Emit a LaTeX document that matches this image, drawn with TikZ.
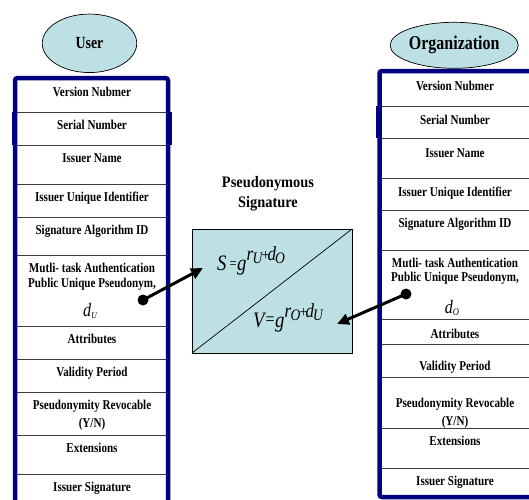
\documentclass[tikz,border=0pt]{standalone}
\usepackage{fontspec}
\setmainfont{Liberation Serif}
\newfontfamily\tabfont{Liberation Serif}[FakeStretch=0.82]
\newfontfamily\titfont{Liberation Serif}[FakeStretch=0.9]
\newfontfamily\eqfont{Liberation Serif}[FakeStretch=0.85]
\usetikzlibrary{arrows.meta,shapes.geometric}
\definecolor{navy}{RGB}{0,0,128}
\definecolor{lblue}{RGB}{189,224,228}
\definecolor{rowline}{RGB}{60,60,60}
\newcommand\sigeq[5]{{\eqfont\itshape\fontsize{22}{22}\selectfont #1\kern#2\raisebox{2pt}{\upshape\fontsize{#5}{#5}\selectfont=}\kern0.5pt g\raisebox{10pt}{\fontsize{20}{20}\selectfont r\kern-0.5pt\raisebox{-3pt}{\fontsize{16}{16}\selectfont #3}\kern-1pt\upshape\fontsize{16}{16}\selectfont+\kern-1.5pt\itshape\fontsize{20}{20}\selectfont d\kern-1pt\raisebox{-3pt}{\fontsize{16}{16}\selectfont #4}}}}
\newcommand\pseud[3]{{\eqfont\itshape\fontsize{19}{19}\selectfont d\raisebox{#2}{\fontsize{#3}{#3}\selectfont #1}}}
\tikzset{
  cell/.style={font=\tabfont\bfseries\fontsize{13.5}{15}\selectfont, inner sep=0pt, anchor=base},
  frame/.style={draw=navy, line width=4.5pt, rounded corners=2.5pt},
  rowsep/.style={draw=rowline, line width=0.9pt},
  oval/.style={ellipse, draw=black, line width=0.7pt, fill=lblue, inner sep=0pt,
    font=\tabfont\bfseries\fontsize{17}{17}\selectfont},
  sigbox/.style={draw=black, line width=0.8pt, fill=lblue},
  sigarrow/.style={line width=3pt, -{Triangle[length=12pt,width=11pt]}},
}
\begin{document}
\begin{tikzpicture}[x=1pt,y=-1pt]
\clip (0,0) rectangle (529,499);
\fill[white] (0,0) rectangle (529,499);

% ellipses
\node[oval, minimum width=94.5pt, minimum height=58.5pt] (user) at (89.5,43.3) {User};
\node[oval, minimum width=95pt, minimum height=46pt, font=\tabfont\bfseries\fontsize{19.5}{19.5}\selectfont] (org) at (454.2,45.3) {Organization};

% left table rows
\foreach \yy in {112,145,184,217,255,326,359,392,435,474}
  \draw[rowsep] (15,\yy) -- (168,\yy);
\draw[navy, line width=5.5pt] (14.5,112) -- (14.5,145);
\draw[navy, line width=5.5pt] (169.5,112) -- (169.5,145);
\draw[frame] (15,520) -- (15,78) -- (168,78) -- (168,520);

% right table rows
\foreach \yy in {106,138,178,210,250,319,344,377,428,468}
  \draw[rowsep] (379.5,\yy) -- (540,\yy);
\draw[navy, line width=5.5pt] (378.5,106) -- (378.5,138);
\draw[frame] (545,71) -- (379.5,71) -- (379.5,497) -- (545,497);

% left table texts
\node[cell] (lver) at (92,96.5) {Version Nubmer};
\node[cell] (lser) at (92,129.5) {Serial Number};
\node[cell] (lina) at (92,162.5) {Issuer Name};
\node[cell] (liui) at (92,201.5) {Issuer Unique Identifier};
\node[cell] (lsig) at (92,234.5) {Signature Algorithm ID};
\node[cell] (lmt1) at (92,272.5) {Mutli- task Authentication};
\node[cell] (lmt2) at (92,287.5) {Public Unique Pseudonym,};
\node[inner sep=0pt, anchor=base] (ldu) at (90,316) {\pseud{U}{-2pt}{9}};
\node[cell] (latt) at (92,343.5) {Attributes};
\node[cell] (lval) at (92,376.5) {Validity Period};
\node[cell] (lpr1) at (92,409.5) {Pseudonymity Revocable};
\node[cell] (lpr2) at (92,427.5) {(Y/N)};
\node[cell] (lext) at (92,452.5) {Extensions};
\node[cell] (lisg) at (92,491.5) {Issuer Signature};

% right table texts
\node[cell] (rver) at (455,90.5) {Version Nubmer};
\node[cell] (rser) at (455,124.5) {Serial Number};
\node[cell] (rina) at (455,157.5) {Issuer Name};
\node[cell] (riui) at (455,196.5) {Issuer Unique Identifier};
\node[cell] (rsig) at (455,227.5) {Signature Algorithm ID};
\node[cell] (rmt1) at (455,267.5) {Mutli- task Authentication};
\node[cell] (rmt2) at (455,281.5) {Public Unique Pseudonym,};
\node[inner sep=0pt, anchor=base] (rdo) at (452,313) {\pseud{O}{-2pt}{10}};
\node[cell] (ratt) at (455,338.5) {Attributes};
\node[cell] (rval) at (455,370.5) {Validity Period};
\node[cell] (rpr1) at (455,407.5) {Pseudonymity Revocable};
\node[cell] (rpr2) at (455,425.5) {(Y/N)};
\node[cell] (rext) at (455,445.5) {Extensions};
\node[cell] (risg) at (455,485.5) {Issuer Signature};

% signature box
\node[align=center, inner sep=0pt, font=\titfont\bfseries\fontsize{16}{20}\selectfont] (title) at (268,193.7) {Pseudonymous\\Signature};
\draw[sigbox] (192,229) rectangle (352,353);
\draw[line width=0.7pt] (192,353) -- (352,229);
\node[anchor=base west, inner sep=0pt] (seq) at (217,270) {\sigeq{S}{3pt}{U}{O}{15}};
\node[anchor=base west, inner sep=0pt] (veq) at (253,327) {\sigeq{V}{1pt}{O}{U}{19}};

% arrows
\coordinate (duDot) at (143,300);
\coordinate (sTip) at (203,268);
\coordinate (doDot) at (406,294);
\coordinate (vTip) at (337,324);
\draw[sigarrow] (duDot) -- (sTip);
\draw[sigarrow] (doDot) -- (vTip);
\fill (duDot) circle (5.5pt);
\fill (doDot) circle (5.5pt);
\end{tikzpicture}
\end{document}
